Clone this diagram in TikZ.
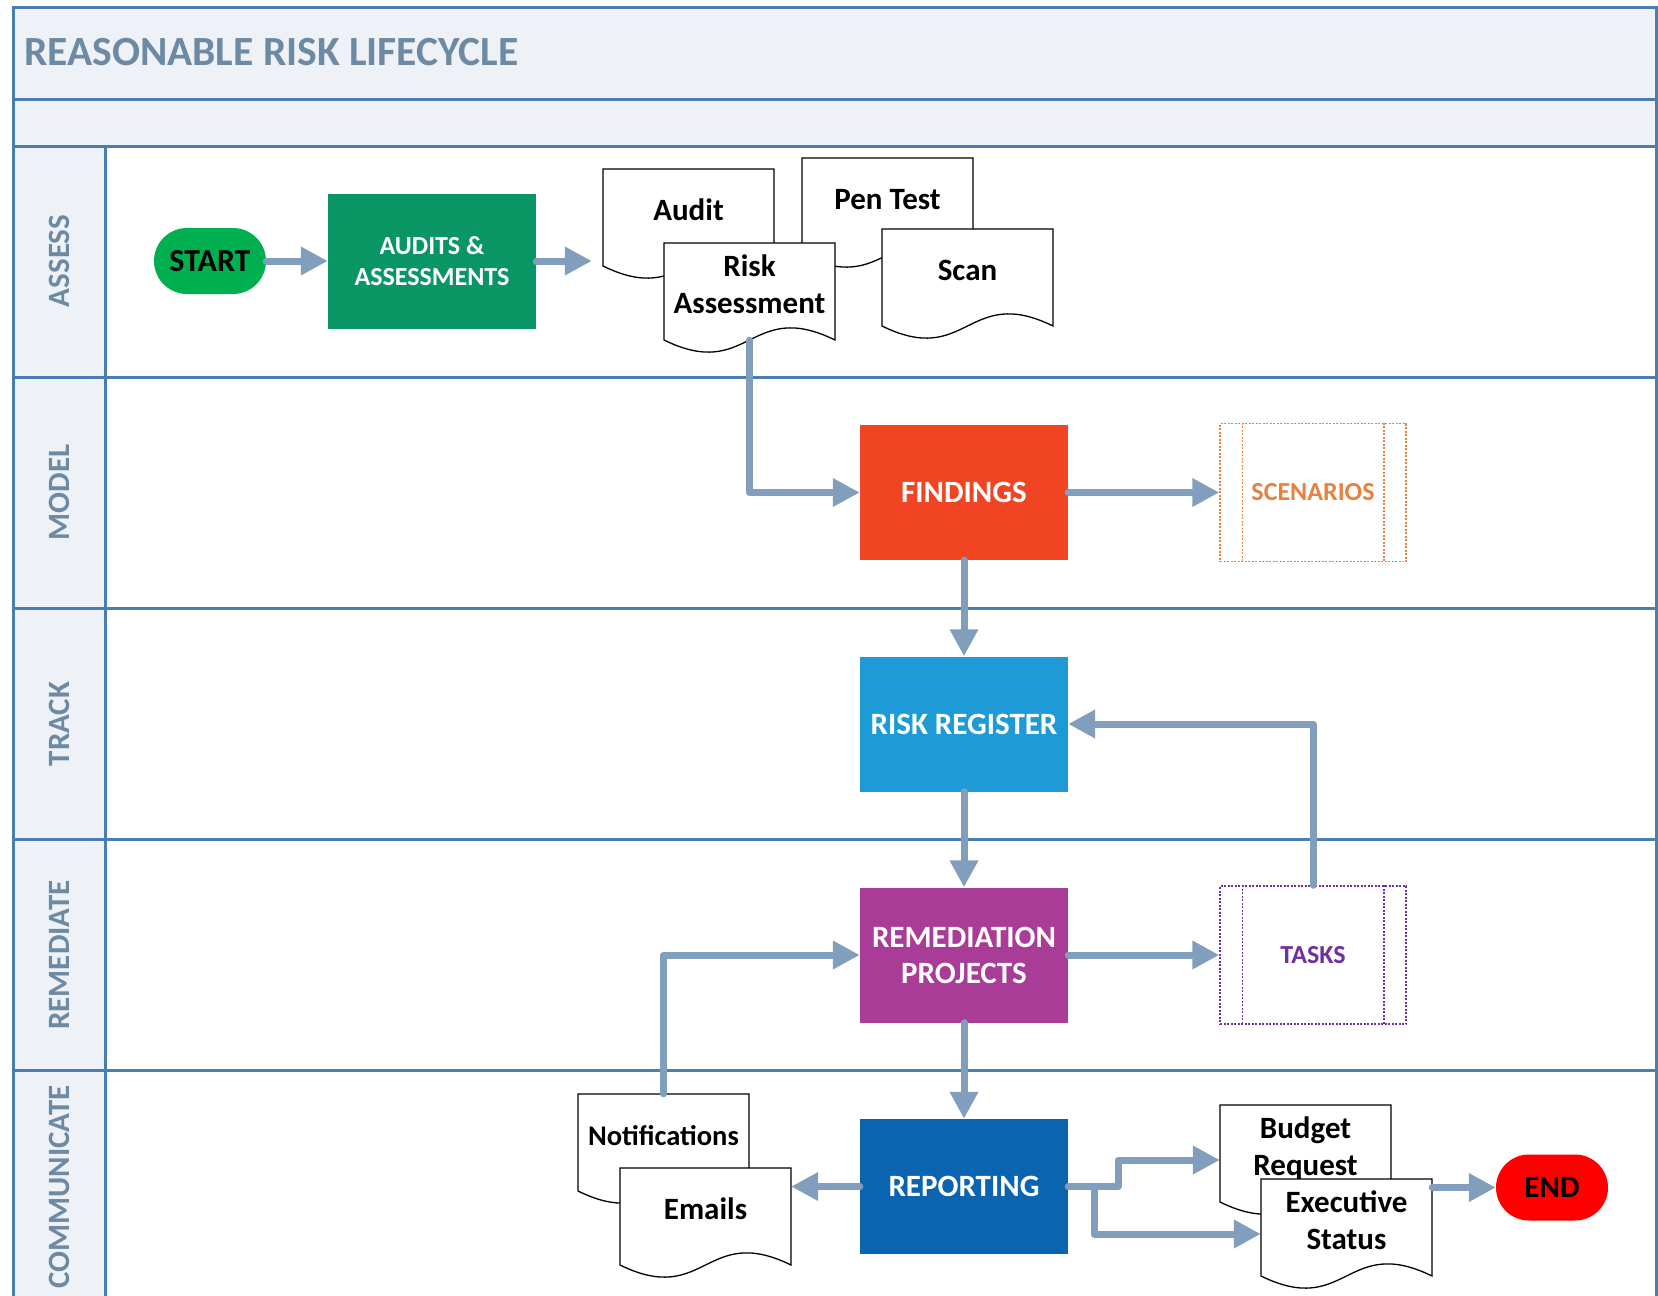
\documentclass[tikz,border=0pt]{standalone}
\usepackage{fontspec}
\setmainfont{Carlito}
\usetikzlibrary{arrows.meta}
\definecolor{lanec}{RGB}{74,126,176}
\definecolor{headfill}{RGB}{238,242,247}
\definecolor{titlec}{RGB}{108,138,164}
\definecolor{arrowc}{RGB}{129,159,188}
\definecolor{startg}{RGB}{0,176,80}
\definecolor{auditg}{RGB}{10,150,100}
\definecolor{findr}{RGB}{240,68,35}
\definecolor{riskb}{RGB}{30,155,215}
\definecolor{remp}{RGB}{168,60,150}
\definecolor{repb}{RGB}{11,100,176}
\definecolor{scenc}{RGB}{232,128,63}
\definecolor{taskc}{RGB}{112,48,160}
\definecolor{endr}{RGB}{255,0,0}
\tikzset{
  laneline/.style={draw=lanec, line width=3pt},
  lanelabel/.style={rotate=90, inner sep=0, text=titlec, font=\bfseries\fontsize{31}{36}\selectfont},
  flow/.style={draw=arrowc, line width=7pt, line cap=round, line join=round, -{Triangle[length=27pt,width=27pt]}},
  procbox/.style={minimum width=208pt, minimum height=135pt, inner sep=0, text=white, align=center, font=\bfseries\fontsize{31}{36}\selectfont},
  pill/.style={rounded corners=33pt, minimum width=112pt, minimum height=66pt, inner sep=0, text=black, font=\bfseries\fontsize{31}{36}\selectfont},
  subproc/.style={minimum width=186pt, minimum height=138pt, inner sep=0, line width=1.5pt, dash pattern=on 2pt off 1.5pt, font=\bfseries\fontsize{26}{30}\selectfont},
  subline/.style={line width=1.5pt, dash pattern=on 2pt off 1.5pt},
  docline/.style={fill=white, draw=black, line width=1.3pt},
  doctext/.style={minimum width=171pt, minimum height=97pt, inner sep=0, font=\bfseries\fontsize{31}{36.5}\selectfont}
}
\newcommand{\mkdoc}[5][]{%
  \path[docline] (#3,#4) -- (#3+171,#4) -- (#3+171,#4+97) .. controls (#3+85.5,#4+55) and (#3+85.5,#4+139) .. (#3,#4+97) -- cycle;
  \node[doctext,#1] (#2) at (#3+85.5,#4+48.5) {\raisebox{4pt}[\height][\depth]{\begin{tabular}{@{}c@{}}#5\end{tabular}}};
}
\begin{document}
\begin{tikzpicture}[x=1pt,y=-1pt]
\useasboundingbox (0,0) rectangle (1658,1296);
\clip (0,0) rectangle (1658,1296);
\fill[white] (0,0) rectangle (1658,1296);
% header bands and label column
\fill[headfill] (13.7,7.4) rectangle (1656,146);
\fill[headfill] (13.7,146) rectangle (105.7,1310);
\draw[laneline] (13.7,7.4) rectangle (1656,1310);
\foreach \yy in {99.4,146,377,608,839,1070} {\draw[laneline] (13.7,\yy) -- (1656,\yy);}
\draw[laneline] (105.7,146) -- (105.7,1310);
\node[anchor=west, inner sep=0, text=titlec, font=\bfseries\fontsize{41.5}{48}\selectfont] (title) at (24,52) {REASONABLE RISK LIFECYCLE};
% lane labels
\node[lanelabel] (lassess) at (59.7,261) {ASSESS};
\node[lanelabel] (lmodel) at (59.7,492.5) {MODEL};
\node[lanelabel] (ltrack) at (59.7,724) {TRACK};
\node[lanelabel] (lremed) at (59.7,955) {REMEDIATE};
\node[lanelabel] (lcomm) at (59.7,1187) {COMMUNICATE};
% process nodes
\node[pill, fill=startg, font=\bfseries\fontsize{32}{36}\selectfont] (start) at (210,261) {START};
\node[procbox, fill=auditg, font=\bfseries\fontsize{26}{31}\selectfont] (audits) at (432,261) {AUDITS \&\\ASSESSMENTS};
\node[procbox, fill=findr] (findings) at (964,492.5) {FINDINGS};
\node[procbox, fill=riskb] (risk) at (964,724) {RISK REGISTER};
\node[procbox, fill=remp] (remed) at (964,955) {REMEDIATION\\PROJECTS};
\node[procbox, fill=repb] (reporting) at (964,1186.5) {REPORTING};
\node[pill, fill=endr] (endn) at (1552,1187.5) {END};
% sub-process boxes
\node[subproc, draw=scenc, text=scenc] (scen) at (1313,492.5) {SCENARIOS};
\draw[subline, scenc] ([xshift=23pt]scen.north west) -- ([xshift=23pt]scen.south west);
\draw[subline, scenc] ([xshift=-23pt]scen.north east) -- ([xshift=-23pt]scen.south east);
\node[subproc, draw=taskc, text=taskc] (tasks) at (1313,955) {TASKS};
\draw[subline, taskc] ([xshift=23pt]tasks.north west) -- ([xshift=23pt]tasks.south west);
\draw[subline, taskc] ([xshift=-23pt]tasks.north east) -- ([xshift=-23pt]tasks.south east);
% documents
\mkdoc{auditdoc}{603}{169}{Audit}
\mkdoc{pendoc}{802}{158}{Pen Test}
\mkdoc{riskdoc}{664}{243}{Risk\\Assessment}
\mkdoc{scandoc}{882}{229}{Scan}
\mkdoc[font=\bfseries\fontsize{28.5}{34}\selectfont]{notif}{578}{1094}{Notifications}
\mkdoc{emails}{620}{1168}{Emails}
\mkdoc{budget}{1220}{1105}{Budget\\Request}
\mkdoc{exec}{1261}{1179}{Executive\\Status}
% connectors
\coordinate (brA) at (1118,1186.5);
\coordinate (brB) at (1118,1160);
\coordinate (brC) at (1094,1186.5);
\coordinate (brD) at (1094,1234);
\draw[flow] (start.east) -- (audits.west);
\draw[flow, shorten >=11pt] (audits.east) -- (audits.east -| auditdoc.west);
\draw[flow] (riskdoc.south) |- (findings.west);
\draw[flow] (findings.east) -- (scen.west);
\draw[flow] (findings.south) -- (risk.north);
\draw[flow] (risk.south) -- (remed.north);
\draw[flow] (remed.east) -- (tasks.west);
\draw[flow] (tasks.north) |- (risk.east);
\draw[flow] (notif.north) |- (remed.west);
\draw[flow] (remed.south) -- (reporting.north);
\draw[flow] (reporting.west) -- (reporting.west -| emails.east);
\draw[flow] (reporting.east) -- (brA) -- (brB) -- (brB -| budget.west);
\draw[flow] (brC) -- (brD) -- (brD -| exec.west);
\draw[flow] (endn.west -| exec.east) -- (endn.west);
\end{tikzpicture}
\end{document}
